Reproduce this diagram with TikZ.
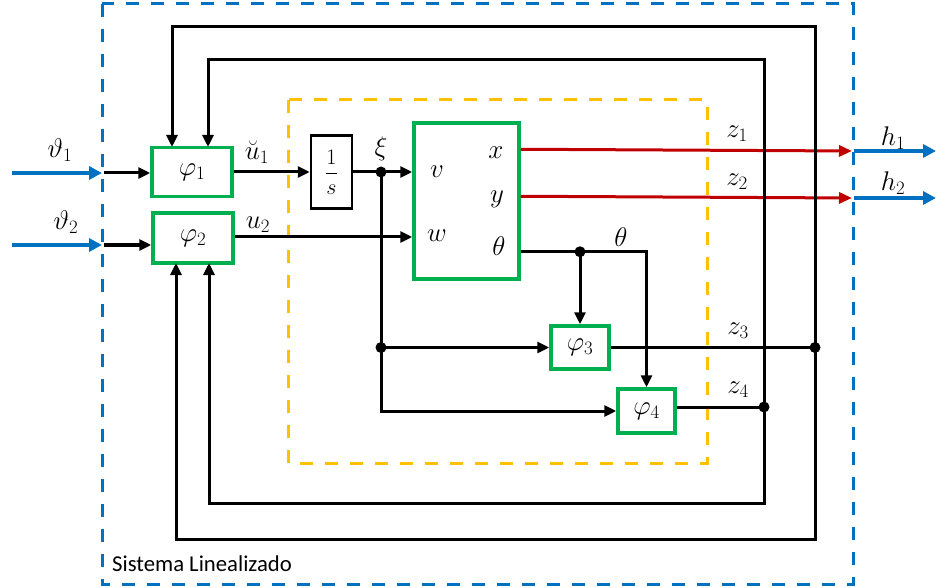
\RequirePackage{fix-cm}
\documentclass[tikz,border=0pt]{standalone}
\usepackage{amsmath}
\usepackage{fontspec}
\newfontfamily\carlito{Carlito}
\usetikzlibrary{arrows.meta,calc}
\definecolor{gbox}{HTML}{00B050}
\definecolor{bline}{HTML}{0070C0}
\definecolor{oline}{HTML}{FFC000}
\definecolor{rline}{HTML}{C00000}
\begin{document}
\begin{tikzpicture}[x=1pt,y=-1pt,
  font=\fontsize{27}{30}\selectfont,
  blk/.style={line width=3pt},
  arr/.style={blk,-{Triangle[length=12pt,width=11pt]}},
  barr/.style={line width=3.5pt,bline,-{Triangle[length=13pt,width=13pt]}},
  rarr/.style={line width=3pt,rline,-{Triangle[length=13pt,width=11pt]}},
  fbox/.style={draw=gbox,line width=3.5pt,inner sep=0pt,fill=white},
  ibox/.style={draw=black,line width=2.5pt,inner sep=0pt,fill=white},
  dot/.style={circle,fill=black,inner sep=0pt,minimum size=11pt},
  lbl/.style={inner sep=0pt},
  bdash/.style={draw=bline,line width=3pt,dash pattern=on 13pt off 12pt},
  odash/.style={draw=oline,line width=3pt,dash pattern=on 13pt off 12pt}]
\useasboundingbox (0,0) rectangle (937,588);
% frames
\draw[odash] (288,100) rectangle (707,463);
\draw[bdash] (102,4) rectangle (853,584);
\node[lbl,anchor=west,font=\carlito\fontsize{22.7}{24}\selectfont] (sys) at (112,564) {Sistema Linealizado};
% blocks
\node[fbox,minimum width=80pt,minimum height=49pt] (p1) at (192,172) {$\varphi_1$};
\node[fbox,minimum width=80pt,minimum height=50pt] (p2) at (193,238) {$\varphi_2$};
\node[ibox,minimum width=41pt,minimum height=73pt,font=\fontsize{22}{24}\selectfont] (int) at (331.5,172) {$\dfrac{1\rule[-3pt]{0pt}{0pt}}{\rule{0pt}{14pt}s}$};
\node[fbox,minimum width=105pt,minimum height=156pt] (big) at (466.5,201) {};
\node[fbox,minimum width=58pt,minimum height=43pt] (p3) at (580,347.5) {$\varphi_3$};
\node[fbox,minimum width=57pt,minimum height=44pt] (p4) at (646.5,411) {$\varphi_4$};
% coordinates
\coordinate (i1) at (12,173);
\coordinate (b1) at (102,173);
\coordinate (k1) at (104,173);
\coordinate (i2) at (12,245);
\coordinate (b2) at (102,245);
\coordinate (k2) at (104,245);
\coordinate (xi) at (381,172);
\coordinate (xo) at ($(big.north east)+(0,28)$);
\coordinate (yo) at ($(big.north east)+(0,75)$);
\coordinate (to) at ($(big.south east)+(0,-29)$);
\coordinate (o1) at (852,151);
\coordinate (o2) at (852,198);
\coordinate (q1) at (854,151);
\coordinate (q2) at (854,198);
\coordinate (e1) at (936,151);
\coordinate (e2) at (936,198);
\coordinate (d3) at (815,347.5);
\coordinate (d4) at (764,407);
% inputs
\draw[barr] (i1) -- (b1);
\draw[barr] (i2) -- (b2);
\draw[arr] (k1) -- (p1.west |- k1);
\draw[arr] (k2) -- (p2.west |- k2);
% forward path
\draw[arr] (p1.east) -- (int.west);
\draw[arr] (int.east) -- (big.west |- xi);
\draw[arr] (p2.east |- 0,237) -- (big.west |- 0,237);
\draw[arr] (xi) |- (p4.west);
\draw[arr] (xi |- p3.west) -- (p3.west);
% theta
\draw[arr] (to) -| (p4.north);
\draw[arr] (p3.north |- to) -- (p3.north);
% outputs
\draw[rarr] (xo) -- (o1);
\draw[rarr] (yo) -- (o2);
\draw[barr] (q1) -- (e1);
\draw[barr] (q2) -- (e2);
% z3, z4
\draw[blk] (p3.east) -- (d3);
\draw[blk] (p4.east |- d4) -- (d4);
% feedback loops
\draw[arr] (d3) -- (815,27) -- (172,27) -- (172,147);
\draw[arr] (d3) -- (815,539) -- (176,539) -- (176,263);
\draw[arr] (d4) -- (764,60) -- (208,60) -- (208,147);
\draw[arr] (d4) -- (764,503) -- (209,503) -- (209,263);
% dots
\node[dot] (dxi) at (xi) {};
\node[dot] (dxi3) at (xi |- p3.west) {};
\node[dot] (dth) at (p3.north |- to) {};
\node[dot] (dz3) at (d3) {};
\node[dot] (dz4) at (d4) {};
% labels
\node[lbl] (l1) at (60,150) {$\vartheta_1$};
\node[lbl] (l2) at (66,222) {$\vartheta_2$};
\node[lbl] (lu1) at (257,152) {$\breve{u}_1$};
\node[lbl] (lu2) at (258,225) {$u_2$};
\node[lbl] (lxi) at (381,149) {$\xi$};
\node[lbl] (lv) at (437,172) {$v$};
\node[lbl] (lw) at (437,236) {$w$};
\node[lbl] (lx) at (496,153) {$x$};
\node[lbl] (ly) at (497,199) {$y$};
\node[lbl] (lt) at (499,246) {$\theta$};
\node[lbl] (lt2) at (621,237) {$\theta$};
\node[lbl] (lz1) at (737,134) {$z_1$};
\node[lbl] (lz2) at (737,182) {$z_2$};
\node[lbl] (lz3) at (738,331) {$z_3$};
\node[lbl] (lz4) at (738,390) {$z_4$};
\node[lbl] (lh1) at (893,138) {$h_1$};
\node[lbl] (lh2) at (893,183) {$h_2$};
\end{tikzpicture}
\end{document}
